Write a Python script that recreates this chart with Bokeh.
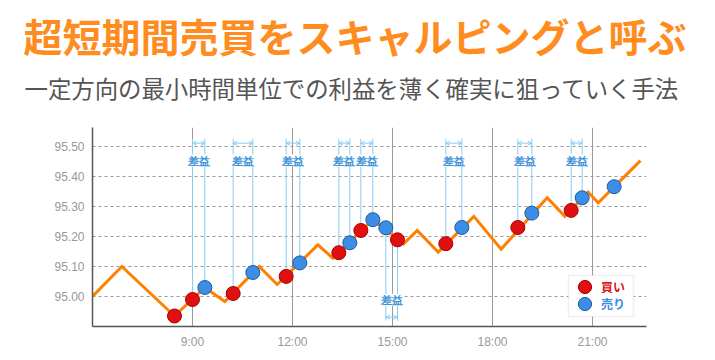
from bokeh.plotting import figure
from bokeh.models import (ColumnDataSource, Range1d, FixedTicker, Title, LabelSet, Arrow,
                          OpenHead, Legend, LegendItem, BoxAnnotation, NumeralTickFormatter)
from bokeh.embed import file_html
from bokeh.resources import INLINE

# ---------------- data ----------------
title_text = "超短期間売買をスキャルピングと呼ぶ"
subtitle_text = "一定方向の最小時間単位での利益を薄く確実に狙っていく手法"

line_time = [6.00, 6.88, 8.46, 9.37, 9.97, 11.00, 11.54, 12.76, 13.21, 14.41,
             15.33, 15.74, 16.37, 17.44, 18.26, 19.64, 20.17, 20.87, 21.17, 22.44]
line_price = [95.000, 95.100, 94.935, 95.030, 94.983, 95.100, 95.040, 95.172, 95.128, 95.256,
              95.175, 95.220, 95.148, 95.267, 95.158, 95.329, 95.267, 95.348, 95.312, 95.453]

buy_time = [8.46, 9.00, 10.22, 11.81, 13.39, 14.05, 15.15, 16.60, 18.76, 20.36]
buy_price = [94.935, 94.990, 95.010, 95.067, 95.146, 95.220, 95.189, 95.176, 95.230, 95.287]
sell_time = [9.37, 10.81, 12.22, 13.72, 14.41, 14.80, 17.08, 19.18, 20.69, 21.65]
sell_price = [95.030, 95.080, 95.112, 95.179, 95.256, 95.229, 95.230, 95.278, 95.329, 95.366]

# trades pairing a buy (index) with a sell (index); side = where the profit marker sits
trade_buy = [1, 2, 3, 4, 5, 6, 7, 8, 9]
trade_sell = [0, 1, 2, 3, 4, 5, 6, 7, 8]
trade_side = ["above", "above", "above", "above", "above", "below", "above", "above", "above"]
profit_label = "差益"

legend_labels = ["買い", "売り"]

x_ticks = [9, 12, 15, 18, 21]
x_tick_labels = ["9:00", "12:00", "15:00", "18:00", "21:00"]
y_ticks = [95.00, 95.10, 95.20, 95.30, 95.40, 95.50]

# ---------------- styling / layout constants ----------------
X_MIN, X_MAX = 6.0, 22.62
Y_MIN, Y_MAX = 94.90, 95.5633
TOP_LINE, TOP_ARROW, TOP_TEXT = 95.526, 95.511, 95.453
BOT_LINE, BOT_ARROW, BOT_TEXT = 94.920, 94.931, 94.989

ORANGE = "#ff8000"
RED = "#e01010"
BLUE = "#3a8ee6"
LIGHT_BLUE = "#86cdf5"
PROFIT_BLUE = "#3f93d8"

p = figure(width=712, height=358, output_backend="svg", toolbar_location=None,
           x_range=Range1d(X_MIN, X_MAX), y_range=Range1d(Y_MIN, Y_MAX),
           min_border_left=92, min_border_right=66, min_border_top=127, min_border_bottom=32)
p.outline_line_color = None
p.background_fill_color = "white"
p.border_fill_color = "white"

# axes
for ax in (p.xaxis[0], p.yaxis[0]):
    ax.axis_line_color = "#555555"
    ax.axis_line_width = 1.5
    ax.major_tick_line_color = None
    ax.minor_tick_line_color = None
    ax.major_tick_out = 0
    ax.major_tick_in = 0
    ax.major_label_text_color = "#999999"
    ax.major_label_text_font = "Liberation Sans"
    ax.major_label_text_font_size = "12px"
    ax.major_label_standoff = 8
p.xaxis.ticker = FixedTicker(ticks=x_ticks)
p.xaxis.major_label_overrides = dict(zip(x_ticks, x_tick_labels))
p.yaxis.ticker = FixedTicker(ticks=y_ticks)
p.yaxis.formatter = NumeralTickFormatter(format="0.00")

p.xgrid.grid_line_color = "#9a9a9a"
p.xgrid.grid_line_width = 1
p.ygrid.grid_line_color = "#9a9a9a"
p.ygrid.grid_line_dash = "3 3"
p.ygrid.grid_line_width = 1

# profit markers (vertical guide lines)
seg_x, seg_y0, seg_y1 = [], [], []
arr_x0, arr_x1, arr_y = [], [], []
lab_x, lab_y = [], []
for bi, si, side in zip(trade_buy, trade_sell, trade_side):
    t_b, p_b = buy_time[bi], buy_price[bi]
    t_s, p_s = sell_time[si], sell_price[si]
    end = TOP_LINE if side == "above" else BOT_LINE
    seg_x += [t_b, t_s]
    seg_y0 += [p_b, p_s]
    seg_y1 += [end, end]
    a, b = min(t_b, t_s), max(t_b, t_s)
    arr_x0.append(a)
    arr_x1.append(b)
    arr_y.append(TOP_ARROW if side == "above" else BOT_ARROW)
    lab_x.append((a + b) / 2)
    lab_y.append(TOP_TEXT if side == "above" else BOT_TEXT)

p.segment(x0=seg_x, y0=seg_y0, x1=seg_x, y1=seg_y1, line_color=LIGHT_BLUE, line_width=1)

arrow_src = ColumnDataSource(dict(x0=arr_x0, x1=arr_x1, y=arr_y))
p.add_layout(Arrow(x_start="x0", y_start="y", x_end="x1", y_end="y", source=arrow_src,
                   line_color=LIGHT_BLUE, line_width=1,
                   start=OpenHead(size=4, line_color=LIGHT_BLUE, line_width=1),
                   end=OpenHead(size=4, line_color=LIGHT_BLUE, line_width=1)))

lab_src = ColumnDataSource(dict(x=lab_x, y=lab_y, text=[profit_label] * len(lab_x)))
p.add_layout(LabelSet(x="x", y="y", text="text", source=lab_src,
                      text_align="center", text_baseline="middle",
                      text_font="Noto Sans CJK JP", text_font_style="bold",
                      text_font_size="11px", text_color=PROFIT_BLUE,
                      background_fill_color="white", background_fill_alpha=1.0))

# price line
p.line(line_time, line_price, line_color=ORANGE, line_width=3, line_join="miter")

# trades
buy_r = p.scatter(buy_time, buy_price, size=14, fill_color=RED, line_color="#a80000", line_width=1)
sell_r = p.scatter(sell_time, sell_price, size=14, fill_color=BLUE, line_color="#1d5b9c", line_width=1)

# legend box + legends
p.add_layout(BoxAnnotation(left=20.28, right=22.23, top=95.07, bottom=94.9333,
                           fill_color="white", fill_alpha=1.0,
                           line_color="#cccccc", line_width=1.5))
leg_buy = Legend(items=[LegendItem(label=legend_labels[0], renderers=[buy_r])],
                 location=(476, 23), padding=0, margin=0, spacing=0,
                 glyph_width=33, glyph_height=33, label_standoff=0,
                 label_text_color="#dd1111", label_text_font="Noto Sans CJK JP",
                 label_text_font_style="bold", label_text_font_size="12px",
                 background_fill_alpha=0, border_line_color=None)
leg_sell = Legend(items=[LegendItem(label=legend_labels[1], renderers=[sell_r])],
                  location=(476, 6), padding=0, margin=0, spacing=0,
                  glyph_width=33, glyph_height=33, label_standoff=0,
                  label_text_color=BLUE, label_text_font="Noto Sans CJK JP",
                  label_text_font_style="bold", label_text_font_size="12px",
                  background_fill_alpha=0, border_line_color=None)
p.add_layout(leg_buy)
p.add_layout(leg_sell)

# title & subtitle (subtitle added first -> sits closest to the frame)
p.add_layout(Title(text=subtitle_text, align="left", offset=-68, standoff=46,
                   text_font="Noto Sans CJK JP", text_font_style="normal", text_font_size="23.4px",
                   text_color="#555555"), "above")
p.add_layout(Title(text=title_text, align="left", offset=-69, standoff=-35,
                   text_font="Noto Sans CJK JP", text_font_style="bold", text_font_size="39px",
                   text_color="#ff8c1e"), "above")

open("out.html", "w").write(file_html(p, INLINE))
